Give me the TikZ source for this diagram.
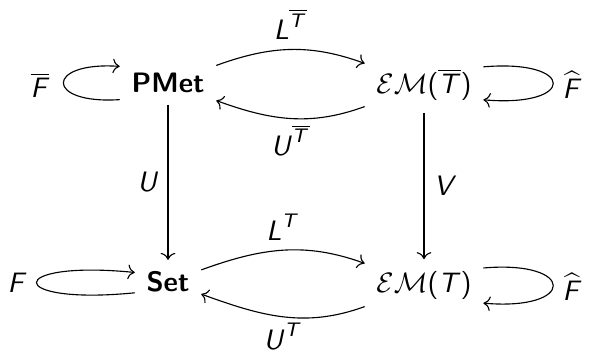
\documentclass[tikz,border=0pt]{standalone}
\usepackage{amsmath}
\usetikzlibrary{arrows.meta}

\newcommand{\sv}[1]{\textsf{\textsl{#1}}}

\begin{document}
\begin{tikzpicture}[x=0.356pt, y=0.356pt, every node/.style={font=\sffamily},
    obj/.style={inner sep=4pt}, arr/.style={-{To}}, lbl/.style={inner sep=2pt}]
  \useasboundingbox (0,0) rectangle (591,353);
  % categories
  \node[obj] (pmet) at (168,270) {\textbf{PMet}};
  \node[obj] (emb) at (424,268) {$\mathcal{E}\mathcal{M}\textsf{(}\overline{\sv{T}}\textsf{)}$};
  \node[obj] (set) at (168,71) {\textbf{Set}};
  \node[obj] (em) at (424,68) {$\mathcal{E}\mathcal{M}\textsf{(}\sv{T}\textsf{)}$};
  % top adjunction
  \draw[arr] (pmet) to[out=20,in=160] node[above] {$\sv{L}^{\overline{\sv{T}}}$} (emb);
  \draw[arr] (emb) to[out=200,in=340] node[below,lbl] {$\sv{U}^{\overline{\sv{T}}}$} (pmet);
  % bottom adjunction
  \draw[arr] (set) to[out=20,in=160] node[above] {$\sv{L}^{\sv{T}}$} (em);
  \draw[arr] (em) to[out=200,in=340] node[below,lbl] {$\sv{U}^{\sv{T}}$} (set);
  % forgetful functors
  \draw[arr] (pmet) -- node[left] {$\sv{U}$} (set);
  \draw[arr] (emb) -- node[right] {$\sv{V}$} (em);
  % endofunctors
  \draw[arr] (pmet.199) .. controls +(-75,-5) and +(-75,5) .. (pmet.161);
  \node (fbar) at (40,268) {$\overline{\sv{F}}$};
  \draw[arr] (set.198) .. controls +(-131,-13) and +(-131,13) .. (set.164);
  \node (f) at (17,70) {$\sv{F}$};
  \draw[arr] (emb.17) .. controls +(93,8) and +(93,-8) .. (emb.346);
  \node (fhatbar) at (572,268) {$\widehat{\sv{F}}$};
  \draw[arr] (em.16) .. controls +(93,8) and +(93,-8) .. (em.343);
  \node (fhat) at (572,66) {$\widehat{\sv{F}}$};
\end{tikzpicture}
\end{document}
